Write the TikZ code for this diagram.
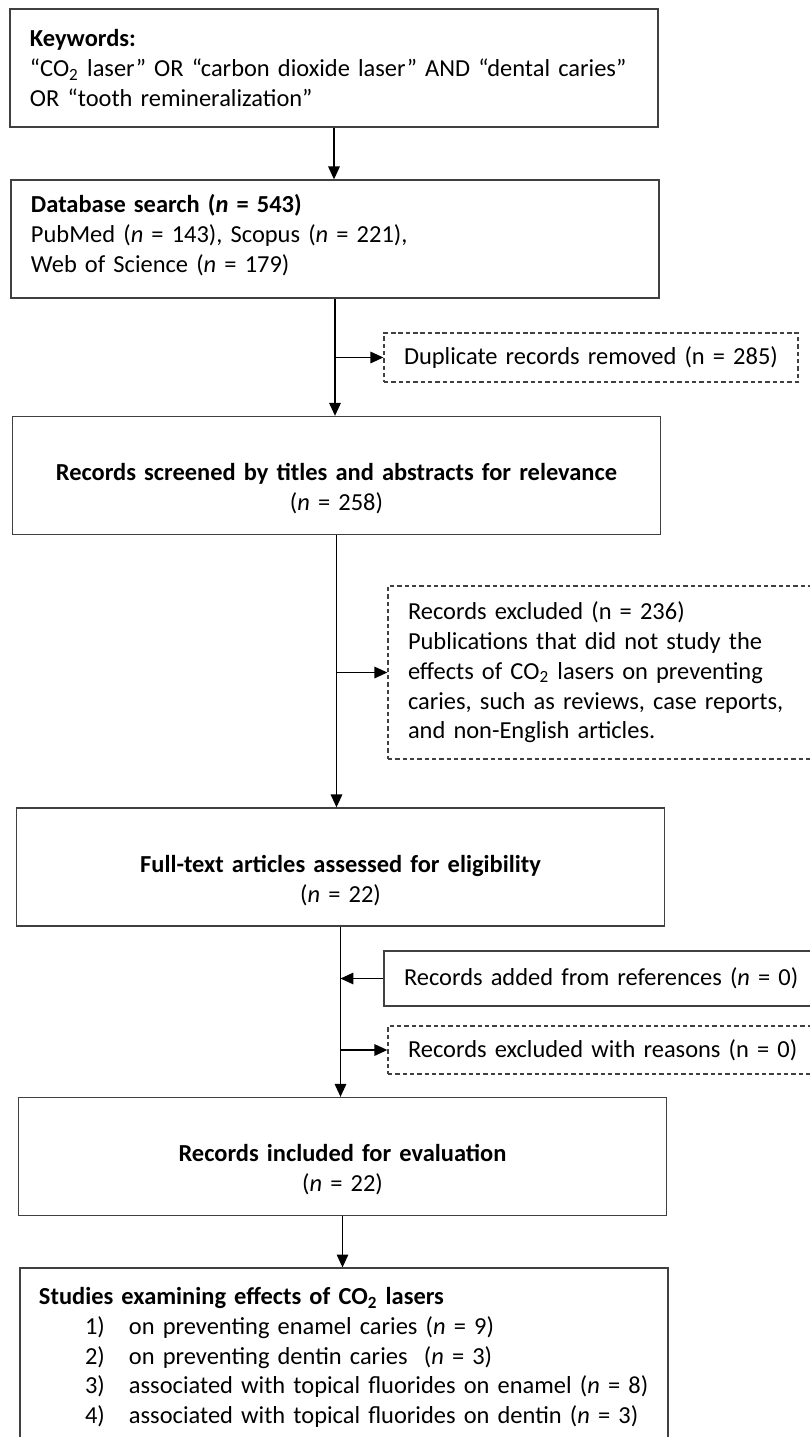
\documentclass[tikz,border=0pt]{standalone}
\usepackage{fontspec}
\setmainfont{Carlito}
\usepackage{tikz}
\usetikzlibrary{
  arrows.meta,
  positioning
}
\definecolor{boxgray}{HTML}{404040}
\frenchspacing

\begin{document}
\begin{tikzpicture}[
  x=0.45pt, y=-0.45pt,
  every node/.style={font=\fontsize{11pt}{13.4pt}\selectfont},
  frame/.style={rectangle, draw=boxgray, line width=0.6pt, inner ysep=0pt},
  mainbox/.style={frame, inner xsep=9pt, minimum width=291.6pt,
                  minimum height=53.1pt, text width=273.6pt},
  sidebox/.style={frame, inner xsep=9pt, align=left},
  dashbox/.style={sidebox, dash pattern=on 2pt off 1.3pt},
  arr/.style={-{Triangle[length=5.8pt,width=5.2pt]}, line width=0.6pt},
]
\useasboundingbox (0,0) rectangle (809,1437);

% main flow
\node[mainbox, align=left] (kw) at (334,68)
  {\textbf{Keywords:}\\
   “CO\textsubscript{2} laser” OR “carbon dioxide laser” AND “dental caries”\\
   OR “tooth remineralization”};
\node[mainbox, align=left] (db) at (335,239)
  {\textbf{Database search (\textit{n} = 543)}\\
   PubMed (\textit{n} = 143), Scopus (\textit{n} = 221),\\
   Web of Science (\textit{n} = 179)\rule[-5.2pt]{0pt}{0pt}};
\node[mainbox, align=center] (scr) at (336.5,475.5)
  {\rule{0pt}{19.7pt}\textbf{Records screened by titles and abstracts for relevance}\\
   (\textit{n} = 258)};
\node[mainbox, align=center] (full) at (340.5,867)
  {\rule{0pt}{19.7pt}\textbf{Full-text articles assessed for eligibility}\\
   (\textit{n} = 22)};
\node[mainbox, align=center] (incl) at (342.5,1156.5)
  {\rule{0pt}{19.7pt}\textbf{Records included for evaluation}\\
   (\textit{n} = 22)};
\node[mainbox, align=left, inner xsep=8.1pt, minimum height=80.5pt,
      text width=274.5pt] (stud) at (344,1357.5)
  {\textbf{Studies examining effects of CO\textsubscript{2} lasers}\\
   \hspace*{20.7pt}\makebox[19.8pt][l]{1)}on preventing enamel caries (\textit{n} = 9)\\
   \hspace*{20.7pt}\makebox[19.8pt][l]{2)}on preventing dentin caries\ \ (\textit{n} = 3)\\
   \hspace*{20.7pt}\makebox[19.8pt][l]{3)}associated with topical fluorides on enamel (\textit{n} = 8)\\
   \hspace*{20.7pt}\makebox[19.8pt][l]{4)}associated with topical fluorides on dentin (\textit{n} = 3)};

% side boxes
\node[dashbox, minimum width=186.3pt, minimum height=22pt, text width=168.3pt]
  (dup) at (591,357.5) {Duplicate records removed (n = 285)};
\node[dashbox, minimum width=203.4pt, minimum height=77.9pt, text width=185.4pt]
  (exc) at (614,672.5)
  {Records excluded (n = 236)\\
   Publications that did not study the\\
   effects of CO\textsubscript{2} lasers on preventing\\
   caries, such as reviews, case reports,\\
   and non-English articles.};
\node[sidebox, minimum width=205.2pt, minimum height=24.8pt, text width=187.2pt]
  (add) at (612,978.5) {Records added from references (\textit{n} = 0)};
\node[dashbox, minimum width=203.4pt, minimum height=21.6pt, text width=185.4pt]
  (rsn) at (614,1050) {Records excluded with reasons (n = 0)};

% connectors
\draw[arr] (kw.south) -- (kw.south |- db.north);
\draw[arr] (db.south) -- (db.south |- scr.north);
\draw[arr] (db.south |- dup.west) -- (dup.west);
\draw[arr] (scr.south) -- (scr.south |- full.north);
\draw[arr] (scr.south |- exc.west) -- (exc.west);
\draw[arr] (full.south) -- (full.south |- incl.north);
\draw[arr] (add.west) -- (add.west -| full.south);
\draw[arr] (full.south |- rsn.west) -- (rsn.west);
\draw[arr] (incl.south) -- (incl.south |- stud.north);
\end{tikzpicture}
\end{document}
